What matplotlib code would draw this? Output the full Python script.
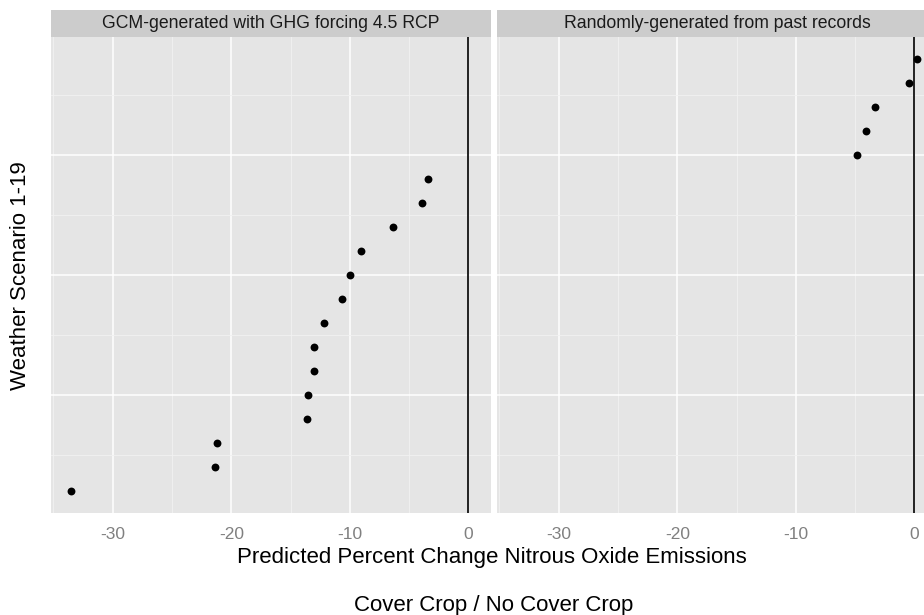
import numpy as np
import matplotlib
matplotlib.use("Agg")
import matplotlib.pyplot as plt
from matplotlib.ticker import MultipleLocator

plt.rcParams["font.family"] = ["Liberation Sans", "DejaVu Sans"]

# facet labels
panels = ["GCM-generated with GHG forcing 4.5 RCP", "Randomly-generated from past records"]

# predicted % change (cover crop / no cover crop)
gcm_scenario = [1, 2, 3, 4, 5, 6, 7, 8, 9, 10, 11, 12, 13, 14]
gcm_change = [-33.5, -21.4, -21.2, -13.65, -13.5, -13.0, -13.0,
              -12.2, -10.7, -9.95, -9.1, -6.4, -3.9, -3.45]
rand_scenario = [15, 16, 17, 18, 19]
rand_change = [-4.85, -4.1, -3.35, -0.5, 0.2]

x_ticks = [-30, -20, -10, 0]

panel_bg = "#E5E5E5"
strip_bg = "#CCCCCC"

fig = plt.figure(figsize=(9.24, 6.15), dpi=100)
W, H = 924.0, 615.0

def px_box(x0, y0, x1, y1):
    return [x0 / W, 1 - y1 / H, (x1 - x0) / W, (y1 - y0) / H]

data = [(gcm_change, gcm_scenario), (rand_change, rand_scenario)]
lefts = [51, 497]
pw = 440

for i, (xs, ys) in enumerate(data):
    x0 = lefts[i]
    ax = fig.add_axes(px_box(x0, 37, x0 + pw, 513))
    ax.set_facecolor(panel_bg)
    ax.set_xlim(-35.2, 1.9)
    ax.set_ylim(0.1, 19.9)
    ax.xaxis.set_major_locator(MultipleLocator(10))
    ax.xaxis.set_minor_locator(MultipleLocator(5))
    ax.yaxis.set_major_locator(MultipleLocator(5))
    ax.yaxis.set_minor_locator(MultipleLocator(2.5))
    ax.grid(which="major", color="white", linewidth=1.1)
    ax.grid(which="minor", color="#F2F2F2", linewidth=0.6)
    ax.set_axisbelow(True)
    for s in ax.spines.values():
        s.set_visible(False)
    ax.set_xticks(x_ticks)
    ax.set_xticklabels([str(t) for t in x_ticks], color="#808080", fontsize=12.5)
    ax.tick_params(axis="both", which="both", length=0, pad=10)
    ax.set_yticklabels([])
    ax.axvline(0, color="#222222", linewidth=1.4, zorder=2)
    ax.scatter(xs, ys, s=32, color="black", zorder=3, linewidths=0)

    # facet strip
    sa = fig.add_axes(px_box(x0, 10, x0 + pw, 37))
    sa.set_facecolor(strip_bg)
    sa.set_xticks([])
    sa.set_yticks([])
    for s in sa.spines.values():
        s.set_visible(False)
    sa.text(0.5, 0.5, panels[i], ha="center", va="center", fontsize=12.7,
            color="#1A1A1A", transform=sa.transAxes)

fig.text(492 / W, 1 - 558 / H, "Predicted Percent Change Nitrous Oxide Emissions",
         ha="center", va="center", fontsize=16, color="black")
fig.text(494 / W, 1 - 605 / H, "Cover Crop / No Cover Crop",
         ha="center", va="center", fontsize=16, color="black")
fig.text(21 / W, 1 - 276 / H, "Weather Scenario 1-19", rotation=90,
         ha="center", va="center", fontsize=16, color="black")

fig.savefig("out.png", dpi=100)
